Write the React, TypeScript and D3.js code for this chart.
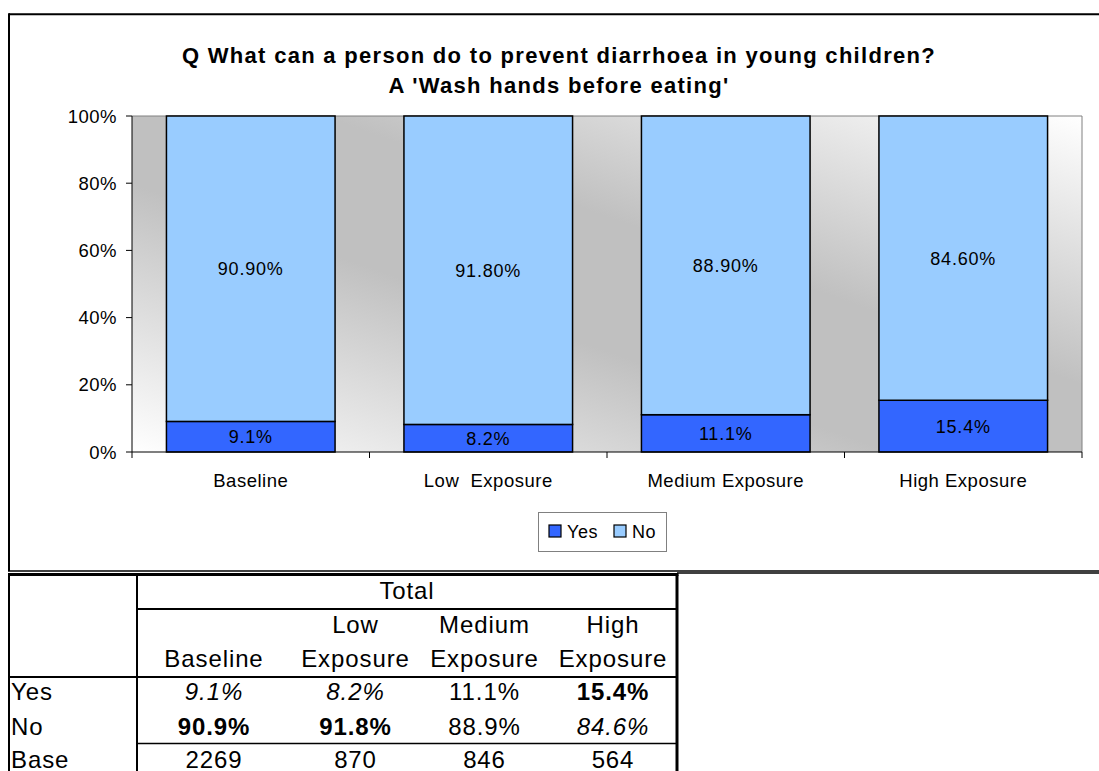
import React from 'react';
import * as d3 from 'd3';

// Survey result: share answering Yes / No per exposure group
const categories = ['Baseline', 'Low  Exposure', 'Medium Exposure', 'High Exposure'];
const yesValues = [9.1, 8.2, 11.1, 15.4];
const noValues = [90.9, 91.8, 88.9, 84.6];
const baseCounts = [2269, 870, 846, 564];
const yTickValues = [0, 20, 40, 60, 80, 100];
const seriesNames = ['Yes', 'No'];

// Summary table text
const tableHeaderTop = ['', 'Low', 'Medium', 'High'];
const tableHeaderBottom = ['Baseline', 'Exposure', 'Exposure', 'Exposure'];
const yesWeights = ['italic', 'italic', 'normal', 'bold'];
const noWeights = ['bold', 'bold', 'normal', 'italic'];

const titleLines = [
  'Q What can a person do to prevent diarrhoea in young children?',
  "A 'Wash hands before eating'",
];

const W = 1099;
const H = 771;
const FONT = '"Liberation Sans", Arial, Helvetica, sans-serif';
const YES_COLOR = '#3366FF';
const NO_COLOR = '#99CCFF';

// plot frame
const plot = { left: 132, right: 1082, top: 116, bottom: 452 };

// table frame
const table = { left: 8, right: 677, top: 574.5, labelRight: 137 };
const colEdges = [137, 291, 420, 549, 677];

export default function App() {
  const x = d3
    .scaleBand<string>()
    .domain(categories)
    .range([plot.left, plot.right])
    .paddingInner(0.29)
    .paddingOuter(0.145);
  const step = x.step();
  const y = d3.scaleLinear().domain([0, 100]).range([plot.bottom, plot.top]);
  const fmtYes = (v: number) => d3.format('.1f')(v) + '%';
  const fmtNo = (v: number) => d3.format('.2f')(v) + '%';
  const fmtTable = (v: number) => d3.format('.1f')(v) + '%';

  const colCenter = (i: number) => (colEdges[i] + colEdges[i + 1]) / 2;

  const tableStyle = (kind: string): React.CSSProperties => ({
    fontStyle: kind === 'italic' ? 'italic' : 'normal',
    fontWeight: kind === 'bold' ? 700 : 400,
  });

  return (
    <svg
      width={W}
      height={H}
      viewBox={`0 0 ${W} ${H}`}
      style={{ position: 'absolute', left: 0, top: 0, display: 'block', background: '#fff' }}
      fontFamily={FONT}
    >
      <defs>
        <linearGradient id="plotBg" x1="0" y1="1" x2="1" y2="0">
          <stop offset="0" stopColor="#ffffff" />
          <stop offset="0.4" stopColor="#c0c0c0" />
          <stop offset="0.6" stopColor="#c0c0c0" />
          <stop offset="1" stopColor="#ffffff" />
        </linearGradient>
      </defs>

      {/* chart frame */}
      <line x1={9} y1={14.3} x2={W} y2={14.3} stroke="#000" strokeWidth={2} />
      <line x1={9} y1={13.3} x2={9} y2={571} stroke="#000" strokeWidth={2} />
      <line x1={8} y1={571} x2={W} y2={571} stroke="#000" strokeWidth={1.5} />

      {/* title */}
      {titleLines.map((t, i) => (
        <text
          key={i}
          x={559}
          y={63 + i * 30}
          textAnchor="middle"
          fontSize={22}
          fontWeight={700}
          letterSpacing={1.3}
          fill="#000"
        >
          {t}
        </text>
      ))}

      {/* plot area */}
      <rect
        x={plot.left}
        y={plot.top}
        width={plot.right - plot.left}
        height={plot.bottom - plot.top}
        fill="url(#plotBg)"
      />
      <polyline
        points={`${plot.left},${plot.top} ${plot.right},${plot.top} ${plot.right},${plot.bottom}`}
        fill="none"
        stroke="#808080"
        strokeWidth={1}
      />

      {/* stacked bars */}
      {categories.map((c, i) => {
        const bx = x(c) as number;
        const bw = x.bandwidth();
        const yesTop = y(yesValues[i]);
        const noTop = y(yesValues[i] + noValues[i]);
        return (
          <g key={c}>
            <rect x={bx} y={yesTop} width={bw} height={y(0) - yesTop} fill={YES_COLOR} stroke="#000" strokeWidth={1.5} />
            <rect x={bx} y={noTop} width={bw} height={yesTop - noTop} fill={NO_COLOR} stroke="#000" strokeWidth={1.5} />
            <text
              x={bx + bw / 2}
              y={(yesTop + y(0)) / 2 + 6.5}
              textAnchor="middle"
              fontSize={18}
              letterSpacing={0.8}
              fill="#000"
            >
              {fmtYes(yesValues[i])}
            </text>
            <text
              x={bx + bw / 2}
              y={(noTop + yesTop) / 2 + 6.5}
              textAnchor="middle"
              fontSize={18}
              letterSpacing={0.8}
              fill="#000"
            >
              {fmtNo(noValues[i])}
            </text>
          </g>
        );
      })}

      {/* y axis */}
      <line x1={plot.left} y1={plot.top} x2={plot.left} y2={plot.bottom} stroke="#000" strokeWidth={1} />
      {yTickValues.map((t) => (
        <g key={t}>
          <line x1={plot.left - 6} y1={y(t)} x2={plot.left} y2={y(t)} stroke="#000" strokeWidth={1} />
          <text x={plot.left - 15} y={y(t) + 6.5} textAnchor="end" fontSize={18.5} letterSpacing={0.5} fill="#000">
            {t}%
          </text>
        </g>
      ))}

      {/* x axis */}
      <line x1={plot.left} y1={plot.bottom} x2={plot.right} y2={plot.bottom} stroke="#000" strokeWidth={1} />
      {d3.range(categories.length + 1).map((i) => (
        <line
          key={i}
          x1={plot.left + i * step}
          y1={plot.bottom}
          x2={plot.left + i * step}
          y2={plot.bottom + 6}
          stroke="#000"
          strokeWidth={1}
        />
      ))}
      {categories.map((c) => (
        <text
          key={c}
          x={(x(c) as number) + x.bandwidth() / 2}
          y={487}
          textAnchor="middle"
          fontSize={18.5}
          letterSpacing={0.5}
          fill="#000"
          style={{ whiteSpace: 'pre' }}
        >
          {c}
        </text>
      ))}

      {/* legend */}
      <rect x={538.5} y={512.5} width={128} height={39} fill="#fff" stroke="#808080" strokeWidth={1} />
      {seriesNames.map((s, i) => {
        const lx = 549 + i * 65;
        return (
          <g key={s}>
            <rect x={lx} y={525} width={12} height={12} fill={i === 0 ? YES_COLOR : NO_COLOR} stroke="#000" strokeWidth={1.2} />
            <text x={lx + 18} y={538} fontSize={18} letterSpacing={0.6} fill="#000">
              {s}
            </text>
          </g>
        );
      })}

      {/* summary table */}
      <line x1={table.right} y1={573} x2={W} y2={573} stroke="#000" strokeWidth={1.5} />
      <line x1={table.left} y1={table.top} x2={table.right + 1.5} y2={table.top} stroke="#000" strokeWidth={3} />
      <line x1={table.left + 1} y1={table.top} x2={table.left + 1} y2={H} stroke="#000" strokeWidth={2} />
      <line x1={table.labelRight} y1={table.top} x2={table.labelRight} y2={H} stroke="#000" strokeWidth={2} />
      <line x1={table.right} y1={table.top} x2={table.right} y2={H} stroke="#000" strokeWidth={3} />
      <line x1={table.labelRight} y1={609} x2={table.right} y2={609} stroke="#000" strokeWidth={2} />
      <line x1={table.left} y1={677} x2={table.right} y2={677} stroke="#000" strokeWidth={2} />
      <line x1={table.labelRight} y1={743.5} x2={table.right} y2={743.5} stroke="#000" strokeWidth={1.5} />

      <g fontSize={24} letterSpacing={0.9} fill="#000">
        <text x={(table.labelRight + table.right) / 2} y={599} textAnchor="middle">
          Total
        </text>
        {tableHeaderTop.map((t, i) => (
          <text key={'ht' + i} x={colCenter(i)} y={633} textAnchor="middle">
            {t}
          </text>
        ))}
        {tableHeaderBottom.map((t, i) => (
          <text key={'hb' + i} x={colCenter(i)} y={667} textAnchor="middle">
            {t}
          </text>
        ))}
        <text x={11} y={700}>Yes</text>
        <text x={11} y={735}>No</text>
        <text x={11} y={767.5}>Base</text>
        {yesValues.map((v, i) => (
          <text key={'y' + i} x={colCenter(i)} y={700} textAnchor="middle" style={tableStyle(yesWeights[i])}>
            {fmtTable(v)}
          </text>
        ))}
        {noValues.map((v, i) => (
          <text key={'n' + i} x={colCenter(i)} y={735} textAnchor="middle" style={tableStyle(noWeights[i])}>
            {fmtTable(v)}
          </text>
        ))}
        {baseCounts.map((v, i) => (
          <text key={'b' + i} x={colCenter(i)} y={767.5} textAnchor="middle">
            {v}
          </text>
        ))}
      </g>
    </svg>
  );
}
